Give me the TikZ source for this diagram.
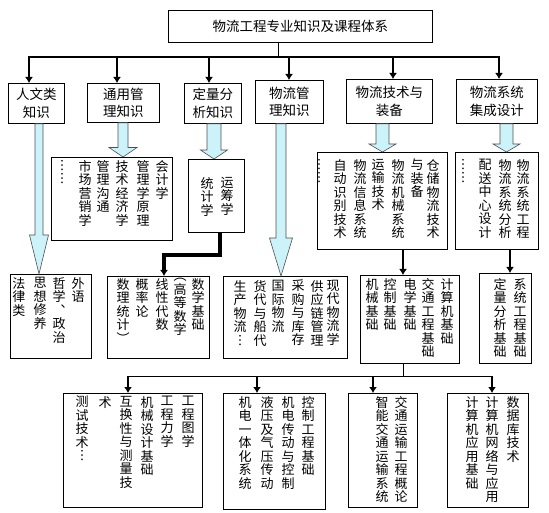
\documentclass[tikz,border=0pt]{standalone}
\usepackage{fontspec}
\setmainfont{Noto Sans CJK SC}
\usepackage{tikz}
\usetikzlibrary{
  calc,
  arrows.meta
}
\tikzset{>={Latex[length=6pt,width=8pt]}}
\definecolor{arrowfill}{RGB}{204,242,250}
\definecolor{arrowline}{RGB}{80,80,80}

\def\vcolstop{\vcolstop}
\def\vcolstep#1{\ifx#1\vcolstop\else\hbox to 13pt{\hss#1\hss}\expandafter\vcolstep\fi}
\newcommand{\vcol}[1]{\vtop{\baselineskip=13.5pt\lineskiplimit=-20pt\expandafter\vcolstep#1\vcolstop}}

\newcommand{\fatarrow}[6]{%
  \filldraw[fatarrow] let \p1=(#2.south), \p2=(#3.north), \p3=(#1,0) in
    (\x3-#4pt,\y1) -- (\x3-#4pt,\y2+#6pt) -- (\x3-#5pt,\y2+#6pt) -- (\x3,\y2)
    -- (\x3+#5pt,\y2+#6pt) -- (\x3+#4pt,\y2+#6pt) -- (\x3+#4pt,\y1) -- cycle;}

\tikzset{
  box/.style={draw, line width=0.8pt, anchor=north west, inner sep=0pt},
  headbox/.style={box, align=center, font=\fontsize{13.5}{17.5}\selectfont},
  vtext/.style={anchor=north, inner sep=0pt, font=\fontsize{13}{13.5}\selectfont},
  busarrow/.style={->, line width=2.5pt},
  linkarrow/.style={->, line width=2pt},
  fatarrow/.style={fill=arrowfill, draw=arrowline, line width=0.6pt}
}

\begin{document}
\begin{tikzpicture}[x=1pt,y=-1pt]
			\useasboundingbox (0,0) rectangle (549,513);

			\node[headbox, minimum width=264, minimum height=32] (title) at (168,10) {物流工程专业知识及课程体系};

			\node[headbox, minimum width=56, minimum height=40] (hum) at (8,83) {人文类\\知识};
			\node[headbox, minimum width=72, minimum height=39] (gen) at (87,83) {通用管\\理知识};
			\node[headbox, minimum width=57, minimum height=40] (quant) at (184,83) {定量分\\析知识};
			\node[headbox, minimum width=68, minimum height=43] (lmgt) at (255,80) {物流管\\理知识};
			\node[headbox, minimum width=86, minimum height=44] (tech) at (346,79) {物流技术与\\装备};
			\node[headbox, minimum width=81, minimum height=44] (sysi) at (456,79) {物流系统\\集成设计};

			\coordinate (bus) at (278,57);
			\draw[line width=0.8pt] (title.south -| bus) -- (bus);
			\draw[line width=1.6pt] (28,57) -- (500,57);
			\foreach \n/\x in {hum/29,gen/117,quant/209,lmgt/289,tech/393,sysi/499}
				\draw[busarrow] (\x,56) -- (\n.north -| \x,0);

			\node[box, minimum width=121, minimum height=83] (genc) at (51,157) {};
			\node[box, minimum width=56, minimum height=73] (quantc) at (188,159) {};
			\node[box, minimum width=130, minimum height=97] (techc) at (317,152) {};
			\node[box, minimum width=83, minimum height=97] (sysic) at (455,152) {};

			\foreach \x/\t [count=\i] in {162/会计学,143/管理学原理,122/技术经济学,103/管理沟通,85/市场营销学,62/︙︙}
				\node[vtext] (genc-\i) at (\x,160) {\vcol{\t}};
			\foreach \x/\t [count=\i] in {227/运筹学,207/统计学}
				\node[vtext] (quantc-\i) at (\x,177) {\vcol{\t}};
			\foreach \x/\t [count=\i] in {433/仓储物流技术,417/与装备,398/物流机械系统,378/运输技术,360/物流信息系统,340/自动识别技术,319/︙︙}
				\node[vtext] (techc-\i) at (\x,159) {\vcol{\t}};
			\foreach \x/\t [count=\i] in {523/物流系统工程,505/物流系统分析,485/配送中心设计,463/︙︙}
				\node[vtext] (sysic-\i) at (\x,159) {\vcol{\t}};

			\node[box, minimum width=81, minimum height=84] (humc) at (10,274) {};
			\node[box, minimum width=102, minimum height=82] (mathc) at (107,276) {};
			\node[box, minimum width=124, minimum height=82] (lmgtc) at (223,276) {};
			\node[box, minimum width=99, minimum height=88] (engc) at (360,275) {};
			\node[box, minimum width=52, minimum height=90] (sysb) at (479,273) {};

			\foreach \x/\t [count=\i] in {78/外语,59/哲学︑政治,40/思想修养,19/法律类}
				\node[vtext] (humc-\i) at (\x,277) {\vcol{\t}};
			\foreach \x/\t [count=\i] in {198/数学基础,180/︵高等数学,162/线性代数,142/概率论,123/数理统计︶}
				\node[vtext] (mathc-\i) at (\x,278) {\vcol{\t}};
			\foreach \x/\t [count=\i] in {333/现代物流学,317/供应链管理,298/采购与库存,278/国际物流,260/货代与船代,240/生产物流︙}
				\node[vtext] (lmgtc-\i) at (\x,280) {\vcol{\t}};
			\foreach \x/\t [count=\i] in {447/计算机基础,428/交通工程基础,410/电学基础,390/控制基础,372/机械基础}
				\node[vtext] (engc-\i) at (\x,278) {\vcol{\t}};
			\foreach \x/\t [count=\i] in {520/系统工程基础,500/定量分析基础}
				\node[vtext] (sysb-\i) at (\x,278) {\vcol{\t}};

			\fatarrow{39}{hum}{humc}{4}{9.5}{39}
			\fatarrow{123}{gen}{genc}{5}{14}{9.5}
			\fatarrow{214}{quant}{quantc}{7}{13.5}{9}
			\fatarrow{281}{lmgt}{lmgtc}{5}{11.5}{38}
			\fatarrow{382.5}{tech}{techc}{6.5}{13.5}{8}
			\fatarrow{506.5}{sysi}{sysic}{6.5}{13.5}{8}

			\draw[->, line width=3.5pt] (quantc.south -| 220,0) -- (220,255) -| (mathc.north -| 164,0);
			\draw[linkarrow] (techc.south -| 403,0) -- (engc.north -| 403,0);
			\draw[linkarrow] (sysic.south -| 510,0) -- (sysb.north -| 510,0);

			\node[box, minimum width=139, minimum height=114] (mech) at (63,393) {};
			\node[box, minimum width=102, minimum height=116] (ctrl) at (223,393) {};
			\node[box, minimum width=69, minimum height=114] (traf) at (348,393) {};
			\node[box, minimum width=81, minimum height=114] (comp) at (447,393) {};

			\foreach \x/\t [count=\i] in {188/工程图学,167/工程力学,147/机械设计基础,126/互换性与测量技,105/术,82/测试技术︙}
				\node[vtext] (mech-\i) at (\x,396) {\vcol{\t}};
			\foreach \x/\t [count=\i] in {308/控制工程基础,288/机电传动与控制,267/液压及气压传动,245/机电一体化系统}
				\node[vtext] (ctrl-\i) at (\x,396) {\vcol{\t}};
			\foreach \x/\t [count=\i] in {401/交通运输工程概论,382/智能交通运输系统}
				\node[vtext] (traf-\i) at (\x,396) {\vcol{\t}};
			\foreach \x/\t [count=\i] in {513/数据库技术,492/计算机网络与应用,472/计算机应用基础}
				\node[vtext] (comp-\i) at (\x,396) {\vcol{\t}};

			\coordinate (bus2) at (403,376);
			\draw[line width=0.8pt] (engc.south -| bus2) -- (bus2);
			\draw[line width=0.8pt] (127,376) -- (493,376);
			\foreach \n/\x in {mech/128,ctrl/257,traf/373,comp/492}
				\draw[linkarrow] (\x,376) -- (\n.north -| \x,0);
		\end{tikzpicture}
\end{document}
